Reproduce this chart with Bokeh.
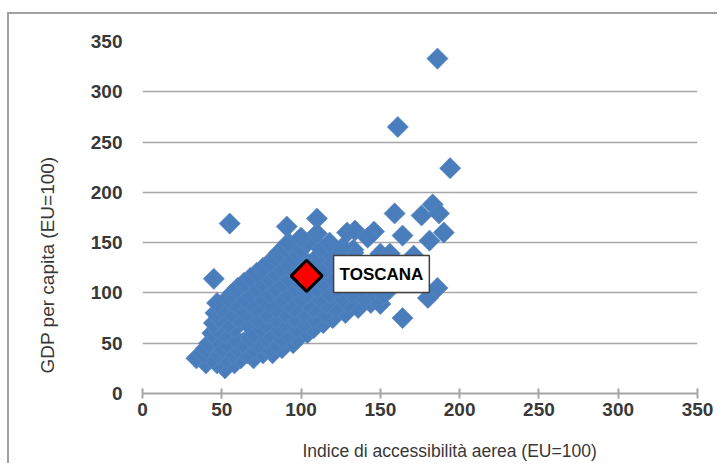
from math import pi
from bokeh.plotting import figure
from bokeh.models import Range1d, Label, Title, FixedTicker, LinearAxis
from bokeh.embed import file_html
from bokeh.resources import INLINE

# ---- data: accessibility index (x) and GDP per capita (y), EU=100 ----
acc_index = [
    52,
    40, 47, 58,
    34, 44, 53, 62, 70,
    38, 48, 57, 66, 76, 82,
    40, 50, 60, 70, 80, 88,
    42, 53, 63, 73, 84, 95,
    46, 58, 68, 78, 88, 98,
    44, 52, 70, 80, 92, 104,
    47, 58, 75, 86, 97, 108,
    45, 54, 66, 78, 90, 102, 114,
    48, 60, 72, 84, 96, 108, 120,
    46, 56, 66, 78, 90, 102, 115, 128,
    50, 62, 72, 84, 96, 108, 122, 136,
    47, 58, 68, 80, 92, 104, 116, 130, 144,
    54, 64, 76, 88, 100, 112, 126, 140, 150,
    57, 68, 80, 92, 104, 118, 132, 146,
    60, 72, 84, 96, 110, 124, 138,
    64, 76, 88, 100, 114, 128, 142,
    68, 80, 92, 106, 120, 134,
    72, 84, 96, 112, 126, 140,
    76, 88, 100, 116, 130, 142,
    80, 92, 104, 120, 134,
    84, 96, 110, 126,
    86, 98, 118, 133,
    90, 100, 112,
    92, 104,
    55, 45, 91, 110, 110, 129, 134, 146, 133, 150, 156, 171, 164, 159,
    176, 183, 187, 190, 181, 194, 186, 161, 164, 180, 186, 150, 156, 152,
    142, 100, 118, 126, 145, 155, 165,
]
gdp_pc = [
    25,
    30, 30, 30,
    35, 35, 35, 35, 35,
    40, 40, 40, 40, 40, 40,
    45, 45, 45, 45, 45, 45,
    50, 50, 50, 50, 50, 50,
    55, 55, 55, 55, 55, 55,
    60, 60, 60, 60, 60, 60,
    65, 65, 65, 65, 65, 65,
    70, 70, 70, 70, 70, 70, 70,
    75, 75, 75, 75, 75, 75, 75,
    80, 80, 80, 80, 80, 80, 80, 80,
    85, 85, 85, 85, 85, 85, 85, 85,
    90, 90, 90, 90, 90, 90, 90, 90, 90,
    95, 95, 95, 95, 95, 95, 95, 95, 95,
    100, 100, 100, 100, 100, 100, 100, 100,
    105, 105, 105, 105, 105, 105, 105,
    110, 110, 110, 110, 110, 110, 110,
    115, 115, 115, 115, 115, 115,
    120, 120, 120, 120, 120, 120,
    125, 125, 125, 125, 125, 125,
    130, 130, 130, 130, 130,
    135, 135, 135, 135,
    140, 140, 140, 140,
    145, 145, 145,
    150, 150,
    169, 114, 166, 174, 159, 160, 162, 161, 143, 139, 139, 137, 157, 179,
    177, 188, 179, 160, 152, 224, 333, 265, 75, 95, 105, 89, 104, 99,
    155, 155, 150, 145, 128, 118, 112,
]

toscana_x = [103.5]
toscana_y = [117]
toscana_name = "TOSCANA"

x_ticks = [0, 50, 100, 150, 200, 250, 300, 350]
y_ticks = [0, 50, 100, 150, 200, 250, 300, 350]

x_title = "Indice di accessibilità aerea (EU=100)"
y_title = "GDP per capita (EU=100)"

BLUE = "#4a7dbb"
GRID = "#a6a6a6"
TEXT = "#383838"

p = figure(width=710, height=451, output_backend="svg", toolbar_location=None,
           x_range=Range1d(0, 350), y_range=Range1d(0, 350),
           min_border_left=133, min_border_right=22,
           min_border_top=27, min_border_bottom=72)
p.styles = {"border-left": "2px solid #a0a0a0", "border-top": "2px solid #a0a0a0",
            "margin-left": "7px", "margin-top": "12px"}
p.outline_line_color = None
p.background_fill_color = "white"
p.border_fill_color = "white"

p.xgrid.visible = False
p.ygrid.ticker = FixedTicker(ticks=y_ticks)
p.ygrid.grid_line_color = GRID
p.ygrid.grid_line_width = 1.5

p.xaxis.ticker = FixedTicker(ticks=x_ticks)
p.xaxis.axis_line_color = GRID
p.xaxis.axis_line_width = 2
p.xaxis.major_tick_line_color = GRID
p.xaxis.major_tick_line_width = 2
p.xaxis.major_tick_in = 5
p.xaxis.major_tick_out = 5
p.xaxis.minor_tick_line_color = None
p.xaxis.major_label_standoff = 4

p.yaxis.ticker = FixedTicker(ticks=y_ticks)
p.yaxis.axis_line_color = None
p.yaxis.major_tick_line_color = None
p.yaxis.minor_tick_line_color = None
p.yaxis.major_tick_out = 0
p.yaxis.major_tick_in = 0
p.yaxis.major_label_standoff = 20

for ax in (p.xaxis, p.yaxis):
    ax.major_label_text_font = "Liberation Sans"
    ax.major_label_text_font_style = "bold"
    ax.major_label_text_font_size = "19px"
    ax.major_label_text_color = TEXT


def spacer(px):
    # invisible axis used only to reserve space between tick labels and title
    return LinearAxis(ticker=FixedTicker(ticks=[0]), major_label_overrides={0: ""},
                      axis_line_color=None, major_tick_line_color="white",
                      minor_tick_line_color=None, major_tick_in=0, major_tick_out=px,
                      major_label_standoff=0, major_label_text_font_size="1px")


p.scatter(acc_index, gdp_pc, marker="square", size=15, angle=pi / 4,
          fill_color=BLUE, line_color="#5b8ac4", line_width=0.6)
p.scatter(toscana_x, toscana_y, marker="square", size=22, angle=pi / 4,
          fill_color="#ff0000", line_color="black", line_width=3)

p.add_layout(Label(x=150.7, y=118.8, text=toscana_name, text_align="center",
                   text_baseline="middle", text_font="Liberation Sans",
                   text_font_style="bold", text_font_size="17px", text_color="black",
                   background_fill_color="white", border_line_color="#404040",
                   border_line_width=1.5, padding=(6, 9)))

p.add_layout(spacer(20), "below")
p.add_layout(Title(text=x_title, align="left", offset=160, standoff=0,
                   text_font="Liberation Sans", text_font_style="normal",
                   text_font_size="17.5px", text_color=TEXT), "below")
p.add_layout(spacer(30), "left")
p.add_layout(Title(text=y_title, align="left", offset=20, standoff=0,
                   text_font="Liberation Sans", text_font_style="normal",
                   text_font_size="19px", text_color=TEXT), "left")

open("out.html", "w").write(file_html(p, INLINE))
